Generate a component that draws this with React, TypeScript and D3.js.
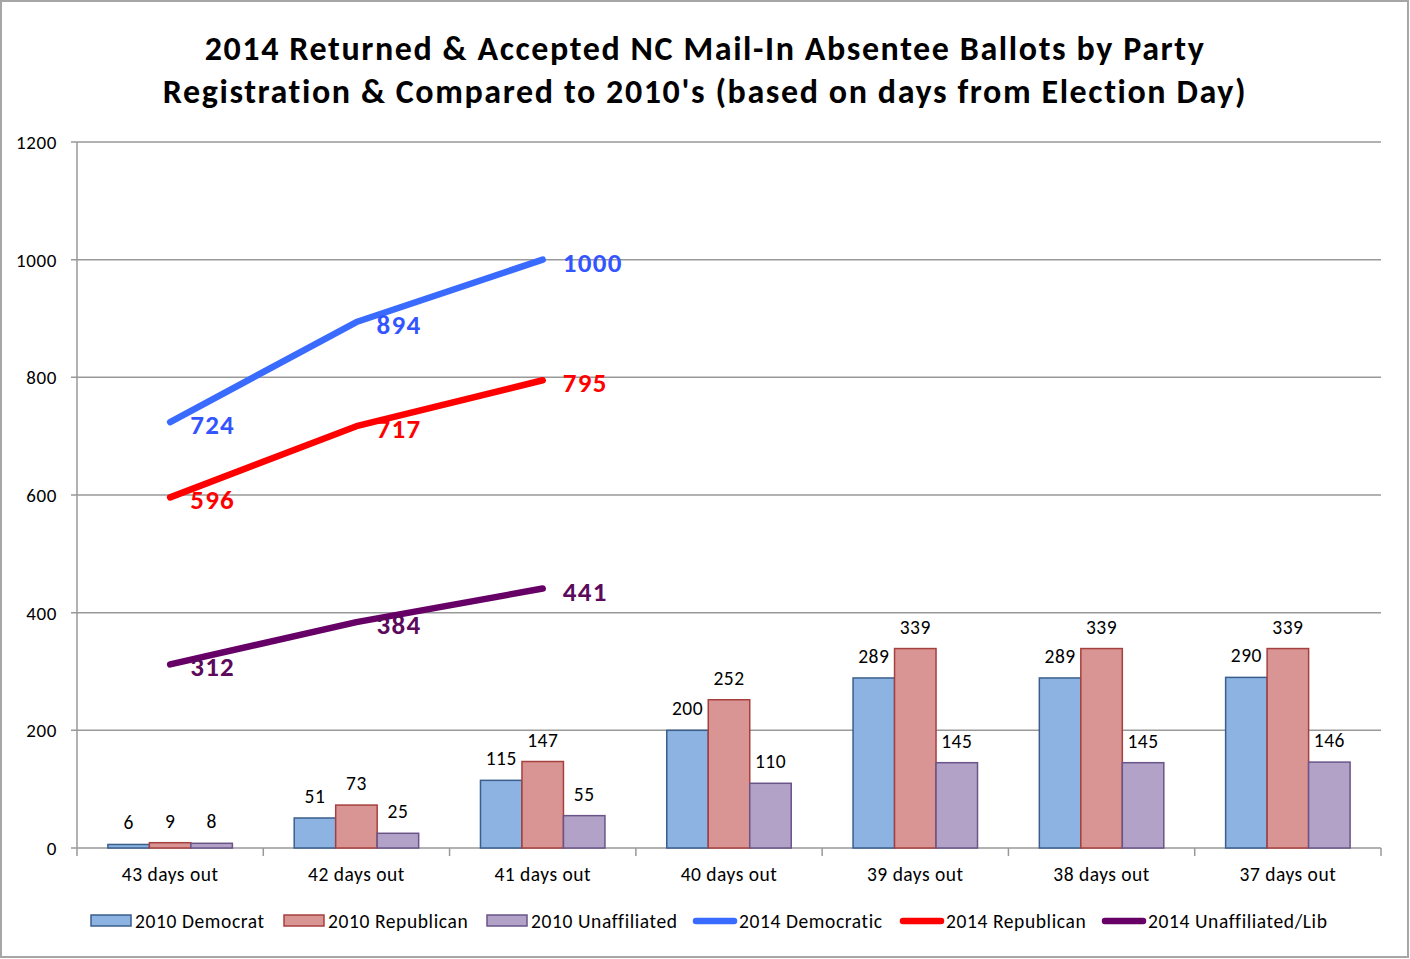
import React from "react";
import * as d3 from "d3";

const categories = ["43 days out", "42 days out", "41 days out", "40 days out", "39 days out", "38 days out", "37 days out"];
const dem2010 = [6, 51, 115, 200, 289, 289, 290];
const rep2010 = [9, 73, 147, 252, 339, 339, 339];
const una2010 = [8, 25, 55, 110, 145, 145, 146];
const dem2014 = [724, 894, 1000];
const rep2014 = [596, 717, 795];
const una2014 = [312, 384, 441];
const yTicks = [0, 200, 400, 600, 800, 1000, 1200];
const titleLines = [
  "2014 Returned & Accepted NC Mail-In Absentee Ballots by Party",
  "Registration & Compared to 2010's (based on days from Election Day)",
];

const barSeries = [
  { name: "2010 Democrat", values: dem2010, fill: "#8DB3E2", stroke: "#3A5F8C" },
  { name: "2010 Republican", values: rep2010, fill: "#D99594", stroke: "#A6403E" },
  { name: "2010 Unaffiliated", values: una2010, fill: "#B3A2C7", stroke: "#6A5488" },
];
const lineSeries = [
  { name: "2014 Democratic", values: dem2014, color: "#3A6BFF", label: "#3355FF" },
  { name: "2014 Republican", values: rep2014, color: "#FF0000", label: "#FF0000" },
  { name: "2014 Unaffiliated/Lib", values: una2014, color: "#660066", label: "#5C0A5C" },
];

const W = 1410;
const H = 959;
const FONT = "Carlito, Calibri, Lato, sans-serif";
const LBL = { fontSize: 19.5, letterSpacing: 0.5 };

export default function App() {
  const x = d3.scaleBand<string>().domain(categories).range([77, 1381]).paddingInner(0).paddingOuter(0);
  const x1 = d3
    .scaleBand<string>()
    .domain(barSeries.map((s) => s.name))
    .range([0, x.bandwidth()])
    .paddingInner(0)
    .paddingOuter(0.745);
  const y = d3.scaleLinear().domain([0, 1200]).range([848, 142]);
  const cx = (i: number) => (x(categories[i]) as number) + x.bandwidth() / 2;
  const line = d3
    .line<number>()
    .x((_, i) => cx(i))
    .y((d) => y(d));

  const legendBars = [91, 284, 487];
  const legendLines = [693, 900, 1102];
  const legendY = 921;

  return (
    <svg width={W} height={H} style={{ position: "absolute", left: 0, top: 0, background: "#fff" }} fontFamily={FONT}>
      <rect x={1} y={1} width={W - 3} height={H - 3} fill="#fff" stroke="#A6A6A6" strokeWidth={2} />
      {titleLines.map((t, i) => (
        <text key={i} x={705} y={60 + i * 43} textAnchor="middle" fontWeight="bold" fontSize={34} letterSpacing={1.6} fill="#000">
          {t}
        </text>
      ))}
      {/* gridlines */}
      {yTicks.map((t) => (
        <g key={t}>
          <line x1={71} x2={1381} y1={y(t)} y2={y(t)} stroke="#999" strokeWidth={1.5} />
          <text x={57} y={y(t) + 7} textAnchor="end" fontSize={19} letterSpacing={0.6} fill="#000">
            {t}
          </text>
        </g>
      ))}
      <line x1={77} x2={77} y1={142} y2={848} stroke="#999" strokeWidth={1.5} />
      {/* x ticks */}
      {d3.range(categories.length + 1).map((i) => {
        const xx = 77 + i * x.step();
        return <line key={i} x1={xx} x2={xx} y1={848} y2={856} stroke="#999" strokeWidth={1.5} />;
      })}
      {categories.map((c, i) => (
        <text key={c} x={cx(i)} y={881} textAnchor="middle" {...LBL} fill="#000">
          {c}
        </text>
      ))}
      {/* bars */}
      {barSeries.map((s) =>
        s.values.map((v, i) => {
          const bx = (x(categories[i]) as number) + (x1(s.name) as number);
          return (
            <g key={s.name + i}>
              <rect
                x={bx}
                y={y(v)}
                width={x1.bandwidth()}
                height={y(0) - y(v)}
                fill={s.fill}
                stroke={s.stroke}
                strokeWidth={1.5}
              />
              <text x={bx + x1.bandwidth() / 2} y={y(v) - 15} textAnchor="middle" {...LBL} fill="#000">
                {v}
              </text>
            </g>
          );
        })
      )}
      {/* lines */}
      {lineSeries.map((s) => (
        <g key={s.name}>
          <path d={line(s.values) as string} fill="none" stroke={s.color} strokeWidth={6.5} strokeLinecap="round" strokeLinejoin="round" />
          {s.values.map((v, i) => (
            <text key={i} x={cx(i) + 20} y={y(v) + 12} fontSize={27} letterSpacing={1.3} fontWeight="bold" fill={s.label}>
              {v}
            </text>
          ))}
        </g>
      ))}
      {/* legend */}
      {barSeries.map((s, i) => (
        <g key={s.name}>
          <rect x={legendBars[i]} y={legendY - 6} width={40} height={11} fill={s.fill} stroke={s.stroke} strokeWidth={1.5} />
          <text x={legendBars[i] + 44} y={legendY + 7} fontSize={19.5} letterSpacing={0.6} fill="#000">
            {s.name}
          </text>
        </g>
      ))}
      {lineSeries.map((s, i) => (
        <g key={s.name}>
          <line
            x1={legendLines[i] + 3}
            x2={legendLines[i] + 41}
            y1={legendY}
            y2={legendY}
            stroke={s.color}
            strokeWidth={6.5}
            strokeLinecap="round"
          />
          <text x={legendLines[i] + 46} y={legendY + 7} fontSize={19.5} letterSpacing={0.6} fill="#000">
            {s.name}
          </text>
        </g>
      ))}
    </svg>
  );
}
